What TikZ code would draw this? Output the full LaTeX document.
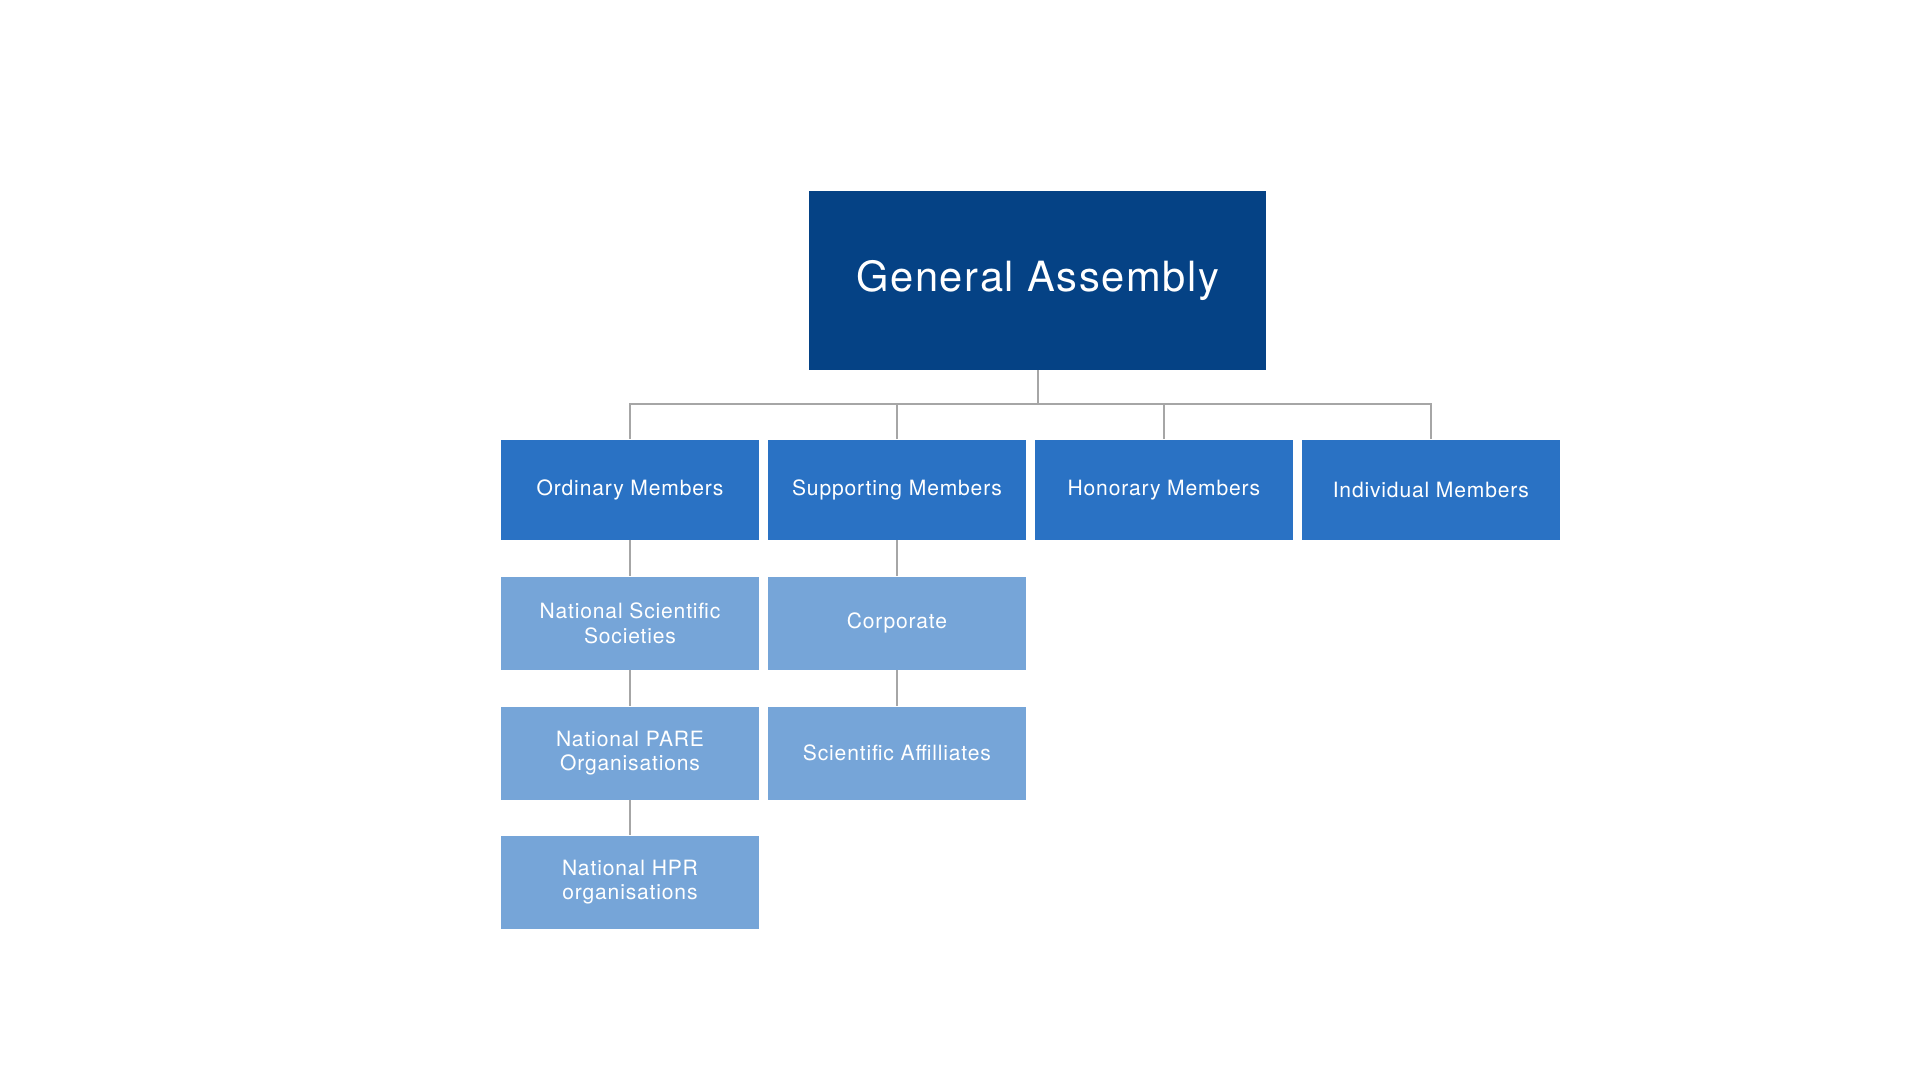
\documentclass[tikz,border=0pt]{standalone}
\usepackage{fontspec}
\setmainfont{TeX Gyre Heros}[LetterSpace=4]
\begin{document}
\begin{tikzpicture}[x=0.5pt,y=-0.5pt,
  box/.style={draw=none,minimum width=105.5pt,minimum height=41pt,inner sep=0pt,text=white,align=center,font=\fontsize{8.6}{10}\selectfont},
  dark/.style={box,fill=c2},
  light/.style={box,fill=c3,minimum height=38pt},
  ln/.style={draw=gray!70,line width=0.6pt}]
\definecolor{c1}{HTML}{054285}
\definecolor{c2}{HTML}{2A72C4}
\definecolor{c3}{HTML}{76A5D8}
\useasboundingbox (0,0) rectangle (1568,882);
\node[fill=c1,minimum width=186.5pt,minimum height=73pt,inner sep=0pt,text=white,font=\fontsize{17}{20}\selectfont] (ga) at (847.5,229) {General Assembly};
\node[dark] (om) at (514.5,400) {Ordinary Members};
\node[dark] (sm) at (732.5,400) {Supporting Members};
\node[dark] (hm) at (950.5,400) {Honorary Members};
\node[dark] (im) at (1168.5,400) {Individual Members};
\node[light] (ns) at (514.5,509) {National Scientific\\Societies};
\node[light] (np) at (514.5,615) {National PARE\\Organisations};
\node[light] (nh) at (514.5,720.5) {National HPR\\organisations};
\node[light] (co) at (732.5,509) {Corporate};
\node[light] (sa) at (732.5,615) {Scientific Affilliates};
\coordinate (bus) at (847.5,330);
\draw[ln] (ga.south) -- (bus);
\foreach \n in {om,sm,hm,im} \draw[ln] (\n.north) |- (bus);
\draw[ln] (om) -- (ns); \draw[ln] (ns) -- (np); \draw[ln] (np) -- (nh);
\draw[ln] (sm) -- (co); \draw[ln] (co) -- (sa);
\end{tikzpicture}
\end{document}
